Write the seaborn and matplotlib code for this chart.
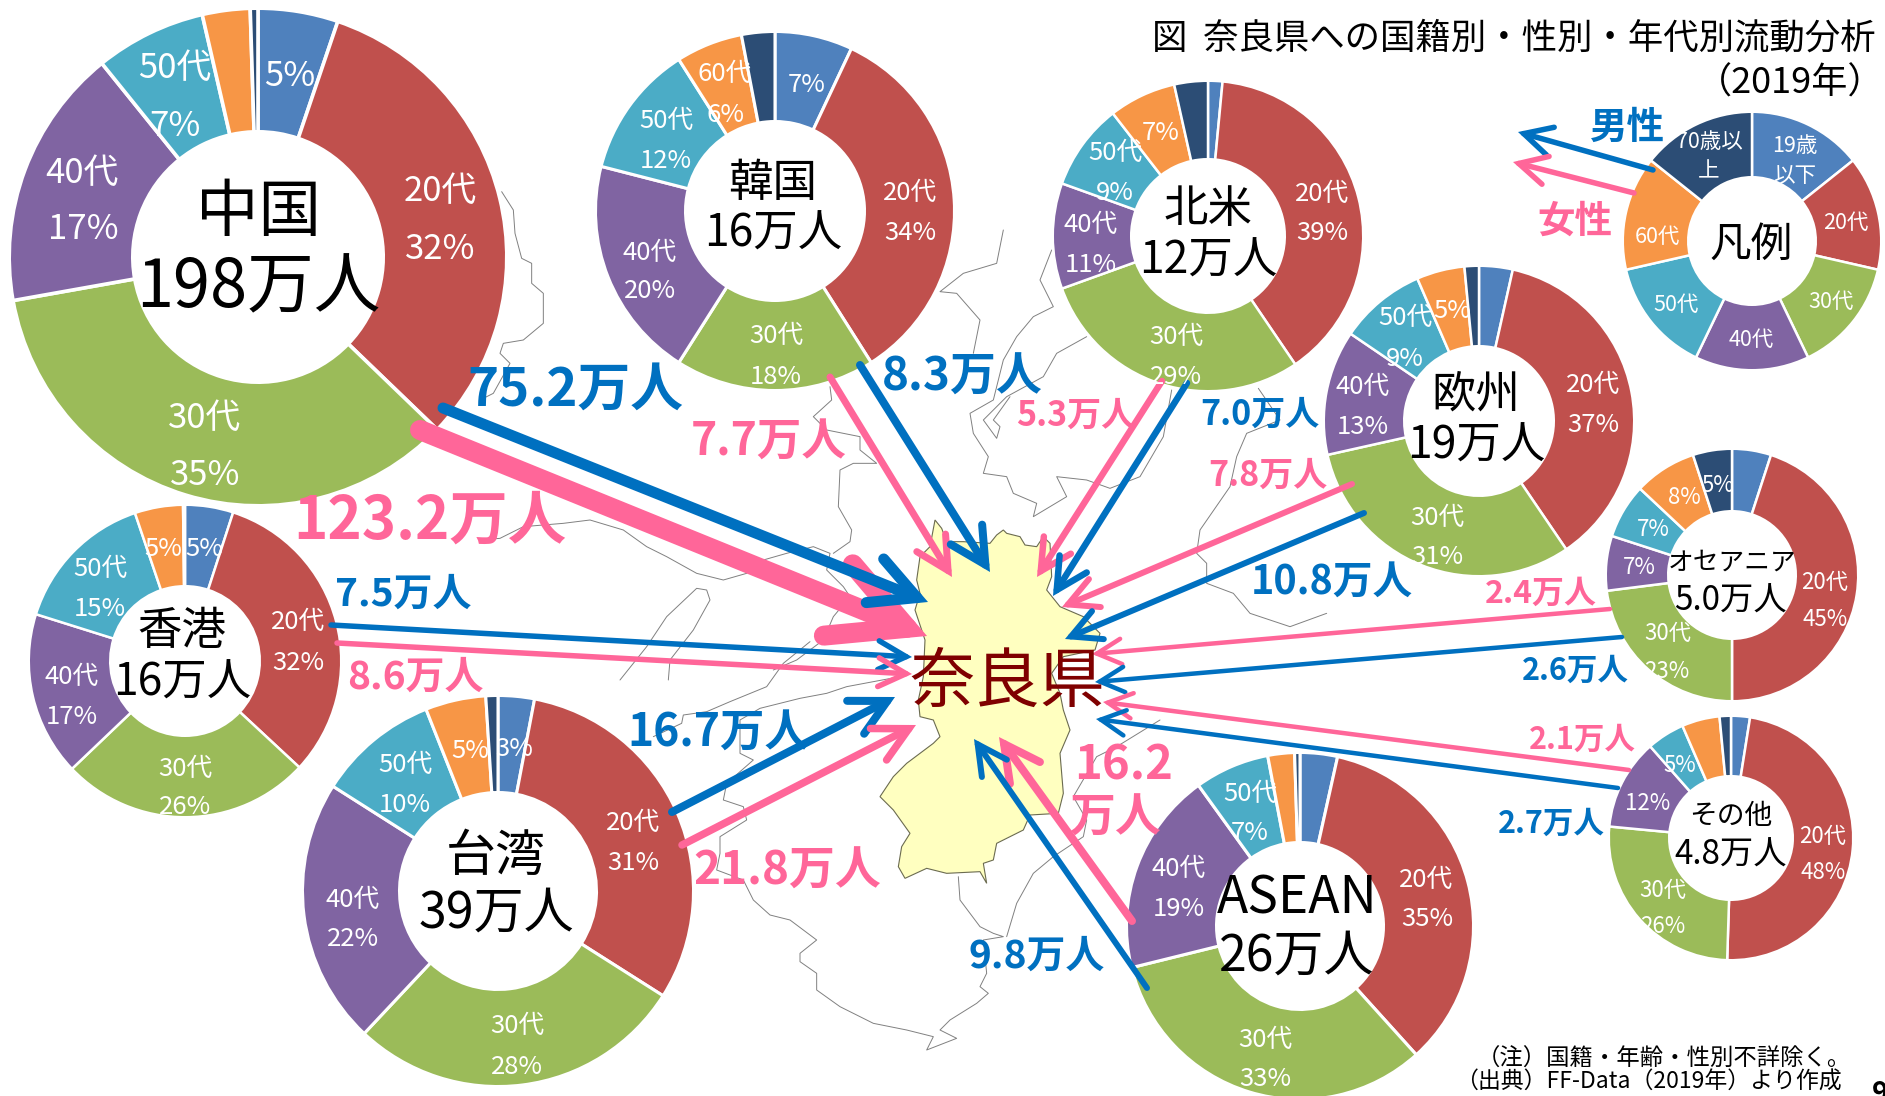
import matplotlib
matplotlib.use('Agg')
import matplotlib.pyplot as plt
import seaborn as sns
from matplotlib.patches import FancyArrowPatch, Polygon

W, H = 1885, 1096
FONT = ['Noto Sans CJK JP', 'DejaVu Sans']

# share of each age band, order: <=19, 20s, 30s, 40s, 50s, 60s, >=70
china = [5.2, 32, 35, 17, 7.2, 3.1, 0.5]
korea = [7, 34, 18, 20, 12, 6, 3]
north_america = [1.5, 39, 29, 11, 9, 7, 3.5]
europe = [3.5, 37, 31, 13, 9, 5, 1.5]
oceania = [5, 45, 23, 7, 7, 8, 5]
others = [2.5, 48, 26, 12, 5, 5, 1.5]
asean = [3.5, 35, 33, 19, 7, 2.5, 0.5]
taiwan = [3, 31, 28, 22, 10, 5, 1]
hongkong = [5, 32, 26, 17, 15, 5, 0.2]
legend_vals = [1, 1, 1, 1, 1, 1, 1]

palette = sns.color_palette(['#4F81BD', '#C0504D', '#9BBB59', '#8064A2',
                             '#4BACC6', '#F79646', '#2C4D75'])
BLUE = '#0070C0'
PINK = '#FF6699'

sns.set_theme(style='white')
plt.rcParams['font.family'] = FONT

fig = plt.figure(figsize=(W / 100, H / 100), dpi=100, facecolor='white')


def full_axes(z):
    a = fig.add_axes([0, 0, 1, 1], zorder=z)
    a.set_xlim(0, W)
    a.set_ylim(H, 0)
    a.axis('off')
    return a


def zoomed(x0, y0, pts):
    return [(x0 + x / 3, y0 + y / 3) for x, y in pts]


# --- map behind everything ---
ax_map = full_axes(0)

nara = zoomed(850, 500, [
    (210, 170), (240, 140), (255, 60), (275, 85), (290, 125), (340, 125), (420, 130), (440, 105),
    (460, 90), (470, 100), (510, 110), (525, 135), (560, 140), (580, 110), (600, 130), (605, 230),
    (590, 270), (630, 320), (700, 350), (750, 400), (735, 450), (640, 470), (605, 520), (630, 580),
    (640, 630), (660, 690), (630, 760), (640, 880), (625, 940), (540, 945), (520, 990), (440, 1030),
    (430, 1080), (400, 1090), (410, 1150), (390, 1115), (290, 1120), (230, 1105), (165, 1135),
    (145, 1100), (155, 1040), (180, 1000), (130, 930), (90, 890), (130, 830), (170, 790), (250, 730),
    (270, 710), (250, 660), (210, 650), (205, 600), (220, 530), (225, 420), (195, 330), (210, 280),
    (200, 240)])
ax_map.add_patch(Polygon(nara, closed=True, facecolor='#FFFFC0', edgecolor='#6b6b50', linewidth=0.8))

outlines = [
    zoomed(480, 180, [(65, 35), (100, 90), (105, 160), (125, 235), (155, 250), (155, 310), (190, 340),
                      (190, 430), (130, 480), (70, 490), (60, 520), (90, 550), (40, 640), (0, 660)]),
    zoomed(480, 180, [(1050, 620), (1055, 660), (1000, 710), (1040, 750), (1140, 770), (1140, 810),
                      (1190, 850), (1120, 850), (1080, 870), (1075, 980), (1115, 1050), (1110, 1085),
                      (1060, 1120)]),
    zoomed(480, 180, [(0, 1080), (60, 1075), (130, 1040), (250, 1030), (330, 1020), (430, 1050),
                      (500, 1100), (560, 1130), (650, 1180), (730, 1200), (800, 1180), (850, 1140),
                      (920, 1120), (1000, 1100), (1050, 1120), (1040, 1170), (1090, 1220), (1110, 1250),
                      (1060, 1310), (1030, 1380), (950, 1440), (880, 1470)]),
    zoomed(480, 180, [(420, 1500), (500, 1400), (560, 1310), (650, 1225), (680, 1230), (690, 1260),
                      (640, 1350), (570, 1440), (565, 1500)]),
    zoomed(640, 640, [(510, 5), (430, 70), (380, 140), (270, 185), (200, 215), (130, 225), (125, 250),
                      (40, 290)]),
    zoomed(640, 640, [(780, 110), (620, 140), (560, 160), (480, 175), (360, 205), (300, 240), (300, 340),
                      (340, 360), (260, 430), (250, 480), (310, 500), (320, 540), (240, 590), (240, 640),
                      (230, 690), (310, 720), (340, 780), (390, 825), (450, 840), (530, 900), (480, 940),
                      (480, 965), (530, 1000), (530, 1050), (600, 1100), (700, 1150), (800, 1170),
                      (880, 1190), (860, 1230), (950, 1195), (900, 1170), (930, 1140), (1010, 1090),
                      (1045, 1060), (1020, 1040), (1040, 1000), (1030, 900), (1090, 890), (1060, 880),
                      (1020, 860), (960, 780), (955, 710)]),
    zoomed(640, 640, [(1100, 890), (1130, 790), (1180, 700), (1240, 650), (1330, 590), (1340, 540),
                      (1300, 470), (1370, 350), (1430, 320), (1560, 240)]),
    zoomed(900, 230, [(310, 0), (290, 100), (190, 130), (120, 185), (170, 190), (240, 270), (220, 370)]),
    zoomed(900, 230, [(455, 60), (420, 150), (460, 230), (400, 260), (350, 320), (310, 390), (280, 510),
                      (210, 550), (220, 610), (265, 680), (250, 730), (320, 740), (340, 790), (410, 820),
                      (400, 860), (500, 800), (470, 740), (560, 750), (630, 775), (720, 740), (790, 620),
                      (815, 480)]),
    zoomed(900, 230, [(560, 320), (470, 370), (430, 440), (320, 500), (250, 570), (290, 625), (300, 590),
                      (280, 570), (330, 500)]),
    zoomed(900, 230, [(1075, 475), (1140, 570), (1040, 610), (1010, 680), (990, 770), (900, 900), (890, 970),
                      (920, 1000), (920, 1060), (1000, 1090), (1050, 1150), (1170, 1190), (1280, 1150)]),
]
for line in outlines:
    xs, ys = zip(*line)
    ax_map.plot(xs, ys, color='#808080', linewidth=0.7)


# --- donuts ---
def donut(vals, cx, cy, r, r_in, edge=1.8):
    # the white edge eats half its width off each side of the ring
    r_draw = r + edge * 0.69
    m = r_draw * 1.02
    a = fig.add_axes([(cx - m) / W, 1 - (cy + m) / H, 2 * m / W, 2 * m / H], zorder=1)
    a.pie(vals, colors=palette, startangle=90, counterclock=False, radius=1,
          wedgeprops={'width': 1 - (r_in - edge * 0.69) / r_draw, 'edgecolor': 'white', 'linewidth': edge})
    a.set_xlim(-1.02, 1.02)
    a.set_ylim(-1.02, 1.02)


donut(china, 258, 257, 247, 127, 2.6)
donut(korea, 775, 211, 178, 91, 2.2)
donut(north_america, 1208, 236, 154, 78)
donut(europe, 1479, 421, 154, 76)
donut(oceania, 1732, 575, 125, 65)
donut(others, 1731, 838, 121, 63)
donut(asean, 1300, 926, 172, 85, 2.2)
donut(taiwan, 498, 891, 194, 100, 2.2)
donut(hongkong, 185, 661, 155, 76)
donut(legend_vals, 1752, 241, 128, 65)

# --- arrows and text on top ---
ax = full_axes(2)
ax.patch.set_alpha(0)


def arrow(start, end, color, lw_px):
    hl = (10 + 3.2 * lw_px) * 0.72
    a = FancyArrowPatch(start, end, arrowstyle=f'->,head_length={hl},head_width={hl * 0.52}',
                        mutation_scale=1, color=color, linewidth=lw_px * 0.72,
                        shrinkA=0, shrinkB=0, joinstyle='miter', capstyle='round')
    ax.add_patch(a)


arrow((420, 430), (927, 636), PINK, 20)
arrow((443, 408), (928, 602), BLUE, 11)
arrow((830, 377), (952, 577), PINK, 7)
arrow((860, 365), (990, 572), BLUE, 8)
arrow((1162, 381), (1037, 577), PINK, 6.5)
arrow((1187, 383), (1053, 596), BLUE, 6.5)
arrow((1352, 484), (1062, 607), PINK, 6)
arrow((1364, 513), (1065, 639), BLUE, 6)
arrow((1610, 609), (1092, 654), PINK, 4.5)
arrow((1622, 637), (1095, 682), BLUE, 4.5)
arrow((1629, 770), (1103, 702), PINK, 4.5)
arrow((1618, 788), (1096, 719), BLUE, 4.5)
arrow((1132, 921), (999, 737), PINK, 8)
arrow((1147, 988), (974, 739), BLUE, 6)
arrow((672, 812), (895, 697), BLUE, 8)
arrow((682, 845), (916, 725), PINK, 7.5)
arrow((331, 625), (912, 657), BLUE, 5.5)
arrow((337, 643), (912, 674), PINK, 5.5)
arrow((1653, 170), (1518, 132), BLUE, 5.5)
arrow((1634, 193), (1513, 162), PINK, 5.5)


def put(x, y, s, size, color='white', weight='normal', ha='center'):
    ax.text(x, y + 3.5, s, fontsize=size, color=color, fontweight=weight, ha=ha, va='center')


def put_many(items, size, color='white'):
    for x, y, s in items:
        put(x, y, s, size, color)


# donut labels
put_many([(290, 73, '5%'), (440, 188, '20代'), (440, 246, '32%'), (205, 415, '30代'), (205, 472, '35%'),
          (82, 170, '40代'), (83, 226, '17%'), (175, 65, '50代'), (175, 123, '7%')], 25)
put_many([(807, 81, '7%'), (910, 189, '20代'), (910, 230, '34%'), (776, 332, '30代'), (776, 373, '18%'),
          (650, 249, '40代'), (650, 288, '20%'), (666, 117, '50代'), (666, 157, '12%'),
          (725, 70, '60代'), (726, 111, '6%')], 18.5)
put_many([(1322, 190, '20代'), (1322, 230, '39%'), (1176, 333, '30代'), (1176, 373, '29%'),
          (1091, 221, '40代'), (1091, 262, '11%'), (1115, 149, '50代'), (1115, 190, '9%'),
          (1161, 130, '7%')], 18.5)
put_many([(1593, 381, '20代'), (1593, 422, '37%'), (1437, 514, '30代'), (1437, 554, '31%'),
          (1363, 383, '40代'), (1363, 424, '13%'), (1405, 314, '50代'), (1405, 355, '9%'),
          (1452, 307, '5%')], 18.5)
put_many([(1718, 482, '5%'), (1825, 579, '20代'), (1825, 616, '45%'), (1668, 630, '30代'), (1667, 668, '23%'),
          (1639, 564, '7%'), (1653, 526, '7%'), (1684, 494, '8%')], 16)
put_many([(1823, 833, '20代'), (1823, 869, '48%'), (1663, 887, '30代'), (1663, 923, '26%'),
          (1648, 800, '12%'), (1680, 762, '5%')], 16)
put_many([(1426, 876, '20代'), (1427, 916, '35%'), (1265, 1036, '30代'), (1265, 1076, '33%'),
          (1179, 865, '40代'), (1179, 905, '19%'), (1250, 790, '50代'), (1250, 829, '7%')], 18.5)
put_many([(633, 819, '20代'), (633, 860, '31%'), (517, 1022, '30代'), (517, 1063, '28%'),
          (353, 896, '40代'), (353, 936, '22%'), (405, 761, '50代'), (405, 802, '10%'),
          (470, 748, '5%'), (514, 745, '3%')], 18.5)
put_many([(298, 618, '20代'), (298, 659, '32%'), (185, 765, '30代'), (185, 804, '26%'),
          (72, 673, '40代'), (72, 714, '17%'), (100, 565, '50代'), (100, 606, '15%'),
          (163, 546, '5%'), (204, 546, '5%')], 18.5)
put_many([(1795, 143, '19歳'), (1795, 173, '以下'), (1846, 219, '20代'), (1831, 298, '30代'),
          (1751, 336, '40代'), (1676, 301, '50代'), (1657, 233, '60代'), (1709, 138, '70歳以'),
          (1709, 168, '上')], 15.5)

# donut centres
put_many([(258, 210, '中国')], 45, 'black')
put_many([(258, 285, '198万人')], 48, 'black')
put_many([(773, 179, '韓国'), (773, 230, '16万人'), (1208, 206, '北米'), (1208, 257, '12万人'),
          (1476, 391, '欧州'), (1476, 442, '19万人'), (182, 628, '香港'), (182, 679, '16万人')], 32, 'black')
put_many([(496, 853, '台湾'), (496, 910, '39万人'), (1297, 953, '26万人')], 36, 'black')
put_many([(1297, 895, 'ASEAN')], 37, 'black')
put_many([(1732, 559, 'オセアニア')], 18.5, 'black')
put_many([(1730, 598, '5.0万人'), (1731, 852, '4.8万人')], 24, 'black')
put_many([(1731, 813, 'その他')], 20, 'black')
put_many([(1751, 242, '凡例')], 30, 'black')

# flow amounts
for x, y, s, size in [(575, 387, '75.2万人', 38), (962, 374, '8.3万人', 33), (1260, 411, '7.0万人', 24.5),
                      (1332, 579, '10.8万人', 28.5), (1575, 667, '2.6万人', 22), (1551, 820, '2.7万人', 22),
                      (1037, 953, '9.8万人', 28), (718, 730, '16.7万人', 32), (403, 591, '7.5万人', 28),
                      (1627, 124, '男性', 27)]:
    put(x, y, s, size, BLUE, 'bold')
for x, y, s, size in [(430, 518, '123.2万人', 42), (769, 439, '7.7万人', 32), (1076, 412, '5.3万人', 24.5),
                      (1268, 472, '7.8万人', 24.5), (1541, 590, '2.4万人', 23), (1582, 736, '2.1万人', 22),
                      (1124, 762, '16.2', 34), (1115, 815, '万人', 33), (787, 868, '21.8万人', 33),
                      (415, 674, '8.6万人', 28), (1575, 218, '女性', 27)]:
    put(x, y, s, size, PINK, 'bold')

put(1007, 680, '奈良県', 47, '#7F0000')

# title and notes
put(1876, 35, '図  奈良県への国籍別・性別・年代別流動分析', 25.5, 'black', ha='right')
put(1884, 80, '（2019年）', 26, 'black', ha='right')
put(1851, 1056, '（注）国籍・年齢・性別不詳除く。', 16.8, 'black', ha='right')
put(1842, 1079, '（出典）FF-Data（2019年）より作成', 16.5, 'black', ha='right')
put(1872, 1091, '9', 20, 'black', 'bold', ha='left')

fig.savefig('out.png', dpi=100, facecolor='white')
